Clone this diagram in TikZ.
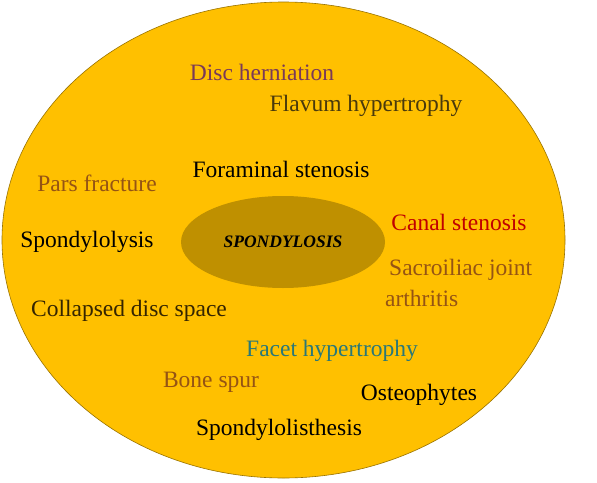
\documentclass[tikz,border=0pt]{standalone}
\usepackage{fontspec}
\setmainfont{Liberation Serif}
\usetikzlibrary{shapes.geometric}
\definecolor{outerfill}{HTML}{FFC000}
\definecolor{innerfill}{HTML}{BF9000}
\definecolor{cpurple}{HTML}{7A3A58}
\definecolor{colive}{HTML}{4A3A0C}
\definecolor{cbrown}{HTML}{955414}
\definecolor{cred}{HTML}{C00000}
\definecolor{cdark}{HTML}{352500}
\definecolor{cteal}{HTML}{2A7878}
\begin{document}
\begin{tikzpicture}[x=1pt,y=1pt,
  lbl/.style={font=\fontsize{23.5}{26}\selectfont, inner sep=0pt},
  bigell/.style={ellipse, draw=innerfill!80!black, line width=0.6pt, fill=outerfill, minimum width=563pt, minimum height=476pt, inner sep=0pt},
  smallell/.style={ellipse, fill=innerfill, minimum width=204pt, minimum height=92pt, inner sep=0pt}]
\useasboundingbox (0,0) rectangle (597,-482);
\node[bigell] (outer) at (283.5,-240) {};
\node[smallell, font=\fontsize{17.5}{19}\selectfont\bfseries\itshape] (inner) at (283,-242) {SPONDYLOSIS};
\node[lbl, text=cpurple] (disc) at (262,-72) {Disc herniation};
\node[lbl, text=colive] (flavum) at (366,-106) {Flavum hypertrophy};
\node[lbl, text=black] (foram) at (281,-169) {Foraminal stenosis};
\node[lbl, text=cbrown] (pars) at (97,-183) {Pars fracture};
\node[lbl, text=cred] (canal) at (459,-222) {Canal stenosis};
\node[lbl, text=black] (lysis) at (87,-242) {Spondylolysis};
\node[lbl, text=cbrown, anchor=west] (sacro) at (389,-270) {Sacroiliac joint};
\node[lbl, text=cbrown, anchor=west] (arth) at (385,-298) {arthritis};
\node[lbl, text=cdark] (collapsed) at (129,-311) {Collapsed disc space};
\node[lbl, text=cteal] (facet) at (332,-351) {Facet hypertrophy};
\node[lbl, text=cbrown] (spur) at (211,-382) {Bone spur};
\node[lbl, text=black] (osteo) at (419,-395) {Osteophytes};
\node[lbl, text=black] (listh) at (279,-430) {Spondylolisthesis};
\end{tikzpicture}
\end{document}
